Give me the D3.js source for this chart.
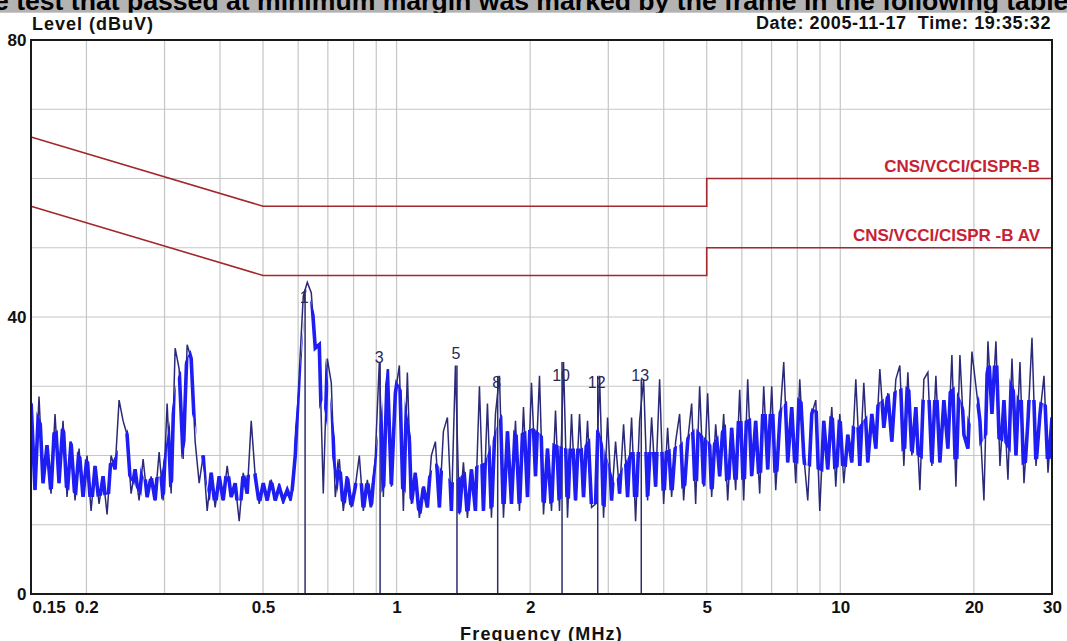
<!DOCTYPE html>
<html>
<head>
<meta charset="utf-8">
<script src="https://cdn.jsdelivr.net/npm/d3@7"></script>
<style>
  body { margin: 0; background: #fff; }
  svg { display: block; font-family: "Liberation Sans", Arial, sans-serif; }
</style>
</head>
<body>
<div id="emi-chart"></div>
<script>
// scan settings (MHz) and the level read at each step of the sweep (dBuV)
const scanStart = 0.15;
const scanStop = 30;
const levels = [
  28, 15, 28.5, 16, 21.5, 14.5, 26, 16, 25, 14, 22, 13.5, 21, 14, 20, 12,
  18.5, 13, 17, 11.5, 20, 18, 28, 25, 23, 14.5, 18, 13.5, 19.5, 14, 17, 13.5,
  20.5, 13.5, 27.5, 14.5, 35.5, 32.5, 19.5, 36, 34, 22, 16, 20, 12, 17.5, 12.5, 17,
  13.5, 18.5, 14, 16, 10.5, 17.5, 14.5, 25, 17, 13, 16, 13.5, 16.5, 13.5, 15.5, 13.5,
  15, 13.5, 20, 32, 43, 45, 43.5, 35.5, 36, 14.5, 34, 30.5, 14, 19.5, 12, 17,
  12.5, 15.5, 20, 12, 16.5, 12.5, 20, 33.5, 14, 32.5, 15.5, 29, 33, 12, 32, 13,
  17.5, 11, 15.5, 12.5, 20, 22, 12.5, 23.5, 25.5, 12, 33, 11.5, 19, 11, 18, 12,
  30, 12, 27.5, 11, 26, 31.5, 11, 23.5, 13, 25, 12, 27, 14, 30.5, 17, 31.5,
  11.5, 21, 12, 26.5, 12, 33.5, 11, 26, 13.5, 26, 14, 25, 12.5, 13, 31.5, 11,
  25.5, 13.5, 22, 14.5, 24.5, 14, 25.5, 10.5, 25, 31, 13.5, 25.5, 15.5, 31, 13, 24,
  14, 22, 26, 13.5, 22, 27.5, 13, 30, 15.5, 29, 14, 24.5, 17, 26, 13.5, 24,
  15, 29.5, 13.5, 31, 17, 25, 14.5, 30, 18, 30, 15, 25, 33.5, 19, 27, 16,
  31, 20, 13.5, 26, 28, 12, 25, 18, 27, 15.5, 26, 16, 23, 19, 31, 18.5,
  30.5, 19, 26, 21, 32.5, 24, 29, 22, 31, 33, 18.5, 32, 20, 27, 15, 31,
  32, 18.5, 31.5, 19, 28, 21, 34.5, 15.5, 34.5, 23, 21, 35, 30, 25, 13.5, 36.5,
  26, 36.5, 18.5, 28, 16.5, 34, 20, 33.5, 16, 25, 37, 18.5, 26, 31.5, 17.5, 25.5
];

// the dense core of the trace (where the sweep overlaps itself), read at a coarser step
const coreLow = [
  15, 15, 15.5, 14, 14, 14.5, 17, 13.5, 13.5, 17, 26, 13.5, 13.5, 13.5, 13.5, 13,
  13, 22, 28, 13.5, 12.5, 12.5, 16, 15, 11.5, 12.5, 11.5, 12, 12, 13, 13, 13.5,
  13, 14, 13, 13, 12, 14, 14, 15, 15, 16.5, 15, 16.5, 16.5, 17.5, 17.5, 19,
  18.5, 17.5, 18.5, 18, 18.5, 19.5, 21, 19.5, 18.5, 19.5, 19.5, 23, 22, 18.5, 19.5, 19.5
];
const coreHigh = [
  28, 23, 24, 20, 18.5, 19, 24, 16.5, 17, 31, 36, 18, 17, 17, 17.5, 16,
  16, 44, 37, 18, 16, 16, 33, 29, 15, 19, 16, 18, 19, 26, 23, 24,
  22, 21, 21, 24, 16, 20.5, 20.5, 20.5, 21.5, 24, 21.5, 25, 25, 26, 26, 29,
  27, 26, 25, 24, 27, 29, 30, 28, 28, 30, 24.5, 33, 33, 28, 28, 27
];

// limit lines
const limitFreqs = [0.15, 0.5, 5, 5, 30];
const qpLimit = [66, 56, 56, 60, 60];
const avLimit = [56, 46, 46, 50, 50];
const limitNames = ["CNS/VCCI/CISPR-B", "CNS/VCCI/CISPR -B AV"];

// markers
const markerFreqs = [0.622, 0.918, 1.368, 1.69, 2.36, 2.84, 3.56];
const markerLevels = [44, 33.5, 33, 31.5, 33.5, 31.5, 31];
const markerLabelLevels = [42.9, 34.1, 34.8, 30.6, 31.6, 30.6, 31.6];
const markerNames = ["1", "3", "5", "8", "10", "12", "13"];

// ticks and grid
const xTicks = [0.15, 0.2, 0.5, 1, 2, 5, 10, 20, 30];
const xTickLabels = ["0.15", "0.2", "0.5", "1", "2", "5", "10", "20", "30"];
const yTicks = [0, 40, 80];
const gridFreqs = [0.2, 0.3, 0.4, 0.5, 0.6, 0.7, 0.8, 0.9, 1, 2, 3, 4, 5, 6, 7, 8, 9, 10, 20];
const gridLevels = [10, 20, 30, 40, 50, 60, 70];

function sweepFreq(i, n) {
  return scanStart * Math.pow(scanStop / scanStart, i / (n - 1));
}

function drawChart(container) {
  const margin = {top: 40, right: 15, bottom: 47, left: 31};
  const width = 1067 - margin.left - margin.right;
  const height = 641 - margin.top - margin.bottom;

  const svg = d3.select(container)
    .append('svg')
    .attr('width', width + margin.left + margin.right)
    .attr('height', height + margin.top + margin.bottom);

  // cut off caption band at the very top
  svg.append("clipPath")
    .attr("id", "band-clip")
    .append("rect")
    .attr("width", 1067)
    .attr("height", 12.7);

  svg.append("rect")
    .attr("width", 1067)
    .attr("height", 12.7)
    .attr("fill", "#b3b3b3");

  svg.append("text")
    .attr("clip-path", "url(#band-clip)")
    .attr("x", -6)
    .attr("y", 10)
    .attr("font-size", 26.6)
    .attr("font-weight", "bold")
    .attr("fill", "#000")
    .text("e test that passed at minimum margin was marked by the frame in the following table");

  svg.append("text")
    .attr("x", 32)
    .attr("y", 29.5)
    .attr("font-size", 18)
    .attr("font-weight", "bold")
    .attr("letter-spacing", 1)
    .attr("fill", "#111")
    .text("Level (dBuV)");

  svg.append("text")
    .attr("x", 1051)
    .attr("y", 29)
    .attr("text-anchor", "end")
    .attr("font-size", 18)
    .attr("font-weight", "bold")
    .attr("letter-spacing", 0.6)
    .attr("fill", "#111")
    .text("Date: 2005-11-17\u00a0\u00a0Time: 19:35:32");

  const chart = svg.append('g')
    .attr('transform', `translate(${margin.left}, ${margin.top})`);

  const x = d3.scaleLog()
    .domain([scanStart, scanStop])
    .range([0, width]);

  const y = d3.scaleLinear()
    .domain([0, 80])
    .range([height, 0]);

  // grid
  chart.selectAll(".vgrid")
    .data(gridFreqs)
    .enter()
    .append("line")
    .attr("class", "vgrid")
    .attr("x1", d => x(d))
    .attr("x2", d => x(d))
    .attr("y1", 0)
    .attr("y2", height)
    .style("stroke", "#c6c6c6")
    .style("stroke-width", 1.2);

  chart.selectAll(".hgrid")
    .data(gridLevels)
    .enter()
    .append("line")
    .attr("class", "hgrid")
    .attr("x1", 0)
    .attr("x2", width)
    .attr("y1", d => y(d))
    .attr("y2", d => y(d))
    .style("stroke", "#c6c6c6")
    .style("stroke-width", 1.2);

  // limit lines
  const limitLine = d3.line()
    .x(d => x(d[0]))
    .y(d => y(d[1]));

  [qpLimit, avLimit].forEach(function(lim) {
    chart.append("path")
      .datum(limitFreqs.map((f, i) => [f, lim[i]]))
      .attr("d", limitLine)
      .attr("fill", "none")
      .style("stroke", "#a3272b")
      .style("stroke-width", 1.6);
  });

  chart.selectAll(".limit-label")
    .data(limitNames)
    .enter()
    .append("text")
    .attr("class", "limit-label")
    .attr("x", x(30) - 12)
    .attr("y", (d, i) => y(i === 0 ? qpLimit[4] : avLimit[4]) - 6.5)
    .attr("text-anchor", "end")
    .attr("font-size", 17)
    .attr("font-weight", "bold")
    .attr("fill", "#c62233")
    .text(d => d);

  // marker lines
  chart.selectAll(".marker-line")
    .data(markerFreqs)
    .enter()
    .append("line")
    .attr("class", "marker-line")
    .attr("x1", d => x(d))
    .attr("x2", d => x(d))
    .attr("y1", y(0))
    .attr("y2", (d, i) => y(markerLevels[i]))
    .style("stroke", "#2d2d6e")
    .style("stroke-width", 1.5);

  // spectrum trace
  const sweep = levels.map((v, i) => ({f: sweepFreq(i, levels.length), v: v}));

  const trace = d3.line()
    .x(d => x(d.f))
    .y(d => y(d.v));

  // the core band only decides where the sweep strokes turn thick and blue
  const core = coreLow.map((lo, i) => ({f: sweepFreq(i, coreLow.length), lo: lo, hi: coreHigh[i]}));

  chart.append("clipPath")
    .attr("id", "core-clip")
    .append("path")
    .datum(core)
    .attr("d", d3.area()
      .x(d => x(d.f))
      .y0(d => y(d.lo))
      .y1(d => y(d.hi)));

  chart.append("path")
    .datum(sweep)
    .attr("d", trace)
    .attr("fill", "none")
    .style("stroke", "#2a2a78")
    .style("stroke-width", 1.5);

  chart.append("path")
    .datum(sweep)
    .attr("d", trace)
    .attr("clip-path", "url(#core-clip)")
    .attr("fill", "none")
    .style("stroke", "#1e1ef2")
    .style("stroke-width", 3.6);

  chart.selectAll(".marker-label")
    .data(markerNames)
    .enter()
    .append("text")
    .attr("class", "marker-label")
    .attr("x", (d, i) => x(markerFreqs[i]) - 1)
    .attr("y", (d, i) => y(markerLabelLevels[i]))
    .attr("dy", "0.35em")
    .attr("text-anchor", "middle")
    .attr("font-size", 16)
    .attr("fill", "#2a2a55")
    .text(d => d);

  // frame
  chart.append("rect")
    .attr("width", width)
    .attr("height", height)
    .attr("fill", "none")
    .style("stroke", "#1a1a1a")
    .style("stroke-width", 2);

  // axes
  chart.append("g")
    .attr('class', 'y axis')
    .call(d3.axisLeft(y).tickValues(yTicks).tickSize(0).tickPadding(4.5))
    .call(g => g.select(".domain").remove())
    .selectAll("text")
      .attr("font-size", 17)
      .attr("font-weight", "bold")
      .attr("font-family", "Liberation Sans, Arial, sans-serif")
      .attr("fill", "#111");

  chart.append("g")
    .attr('class', 'x axis')
    .attr("transform", `translate(0,${height})`)
    .call(d3.axisBottom(x).tickValues(xTicks).tickFormat((d, i) => xTickLabels[i]).tickSize(0).tickPadding(7))
    .call(g => g.select(".domain").remove())
    .selectAll("text")
      .attr("font-size", 17)
      .attr("font-weight", "bold")
      .attr("font-family", "Liberation Sans, Arial, sans-serif")
      .attr("fill", "#111")
      .attr("text-anchor", (d, i) => i === 0 ? "start" : "middle")
      .attr("dx", (d, i) => i === 0 ? 1 : 0);

  svg.append("text")
    .attr("x", margin.left + width / 2)
    .attr("y", 640)
    .attr("text-anchor", "middle")
    .attr("font-size", 18)
    .attr("font-weight", "bold")
    .attr("letter-spacing", 1.2)
    .attr("fill", "#111")
    .text("Frequency (MHz)");
}

drawChart('#emi-chart');
</script>
</body>
</html>
